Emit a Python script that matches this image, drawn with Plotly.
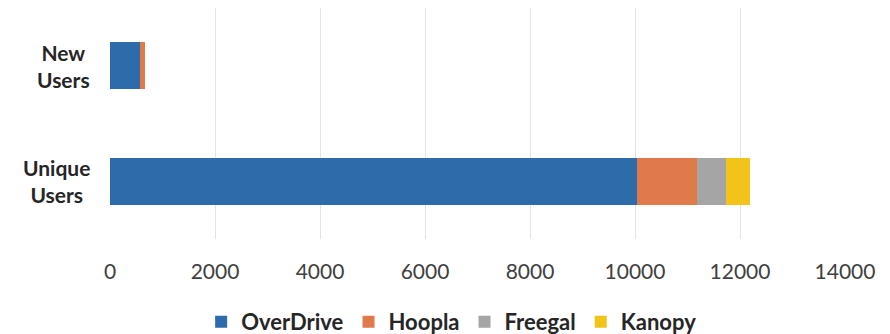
import plotly.graph_objects as go

categories = ["Unique Users", "New Users"]
series_names = ["OverDrive", "Hoopla", "Freegal", "Kanopy"]
overdrive = [10040, 570]
hoopla = [1140, 90]
freegal = [550, 0]
kanopy = [460, 0]
x_ticks = [0, 2000, 4000, 6000, 8000, 10000, 12000, 14000]

colors = ["#2E6BAA", "#E07A4B", "#A5A5A5", "#F2C318"]
values = [overdrive, hoopla, freegal, kanopy]

fig = go.Figure()
for name, vals, col in zip(series_names, values, colors):
    fig.add_trace(go.Bar(
        y=categories, x=vals, name=name, orientation="h",
        marker=dict(color=col, line=dict(width=0)),
    ))

FONT = "Lato"
# page body has an 8px margin, so the figure is sized to fit the window
fig.update_layout(
    barmode="stack",
    bargap=0.59,
    width=882, height=326,
    margin=dict(l=102, r=45, t=0, b=95, autoexpand=False),
    paper_bgcolor="white", plot_bgcolor="white",
    font=dict(family=FONT, color="#404040", size=21),
    showlegend=True,
    legend=dict(
        orientation="h", xref="container", yref="container",
        x=0.503, y=0.037, xanchor="center", yanchor="middle",
        font=dict(family=FONT, size=22, color="#262626", weight="bold"),
        itemwidth=30, tracegroupgap=0, traceorder="normal",
    ),
    xaxis=dict(
        range=[0, 14000], tickvals=x_ticks, ticktext=[str(v) for v in x_ticks],
        showgrid=True, gridcolor="#E3E3E3", gridwidth=1,
        zeroline=False, showline=False, ticks="", ticklabelstandoff=18,
        tickfont=dict(family=FONT, size=21, color="#404040"),
    ),
    yaxis=dict(
        showticklabels=False, showgrid=False, zeroline=False, showline=False,
        categoryorder="array", categoryarray=categories,
    ),
)

for cat in categories:
    fig.add_annotation(
        xref="paper", yref="y", x=0, y=cat, xshift=-18,
        xanchor="right", yanchor="middle", align="center",
        text=cat.replace(" ", "<br>"), showarrow=False,
        font=dict(family=FONT, size=21, color="#262626", weight="bold"),
    )

fig.write_html("out.html")
